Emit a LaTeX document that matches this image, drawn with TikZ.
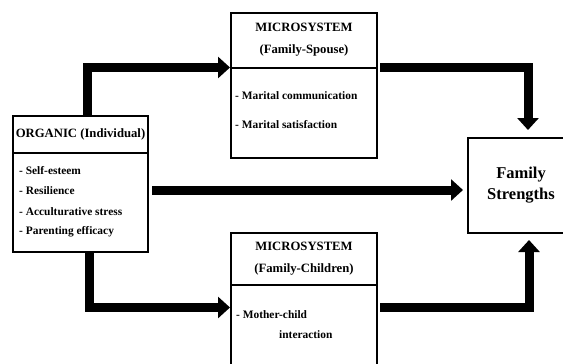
\documentclass[tikz,border=0pt]{standalone}
\usepackage{fontspec}
\setmainfont{Liberation Serif}
\usetikzlibrary{arrows.meta}
\begin{document}
\begin{tikzpicture}[x=1pt,y=-1pt,
  box/.style={draw=black,line width=2pt,fill=white,inner sep=0pt,outer sep=0pt},
  headtxt/.style={font=\fontsize{12.7}{22}\selectfont\bfseries,align=center},
  item/.style={font=\fontsize{11.4}{13}\selectfont\bfseries,anchor=west,inner sep=0pt},
  arr/.style={line width=9pt,line join=miter,-{Triangle[width=21pt,length=12pt]}}
]
\useasboundingbox (0,0) rectangle (563,364);
\clip (0,0) rectangle (563,364);
% Organic
\node[box,line width=2.5pt,minimum width=135pt,minimum height=37pt,headtxt] (orgh) at (80.5,134.5) {ORGANIC (Individual)};
\node[box,line width=2.5pt,minimum width=135pt,minimum height=99pt] (orgb) at (80.5,202.5) {};
\node[item] (o1) at (19,171) {- Self-esteem};
\node[item] (o2) at (19,191) {- Resilience};
\node[item] (o3) at (19,211.5) {- Acculturative stress};
\node[item] (o4) at (19,232) {- Parenting efficacy};
% Microsystem spouse
\node[box,minimum width=146pt,minimum height=55pt,headtxt] (m1h) at (304,40) {MICROSYSTEM\\(Family-Spouse)};
\node[box,minimum width=146pt,minimum height=90pt] (m1b) at (304,112.5) {};
\node[item] (s1) at (235,96) {- Marital communication};
\node[item] (s2) at (235,125) {- Marital satisfaction};
% Microsystem children
\node[box,minimum width=146pt,minimum height=52pt,headtxt] (m2h) at (304,258.5) {MICROSYSTEM\\(Family-Children)};
\node[box,minimum width=146pt,minimum height=106pt] (m2b) at (304,337.5) {};
\node[item] (c1) at (236,315) {- Mother-child};
\node[item] (c2) at (279,335) {interaction};
% Family strengths
\node[box,line width=2.5pt,minimum width=106pt,minimum height=95pt,font=\fontsize{16.5}{21}\selectfont\bfseries,align=center] (fam) at (521,185.5) {Family\\Strengths};
% Arrows
\draw[arr,shorten >=1pt] ([xshift=6.5pt]orgh.north) |- (m1h.south west);
\draw[arr,shorten >=1pt] ([xshift=8.5pt]orgb.south) |- ([yshift=-23pt]m2b.north west);
\coordinate (mid) at ([xshift=4pt,yshift=12.5pt]orgb.east);
\draw[arr,shorten >=5pt] (mid) -- (mid -| fam.west);
\draw[arr,shorten >=8pt] ([xshift=3pt]m1h.south east) -| ([xshift=7pt]fam.north);
\draw[arr,shorten >=7pt] ([xshift=3pt,yshift=-23pt]m2b.north east) -| ([xshift=8pt]fam.south);
\end{tikzpicture}
\end{document}
